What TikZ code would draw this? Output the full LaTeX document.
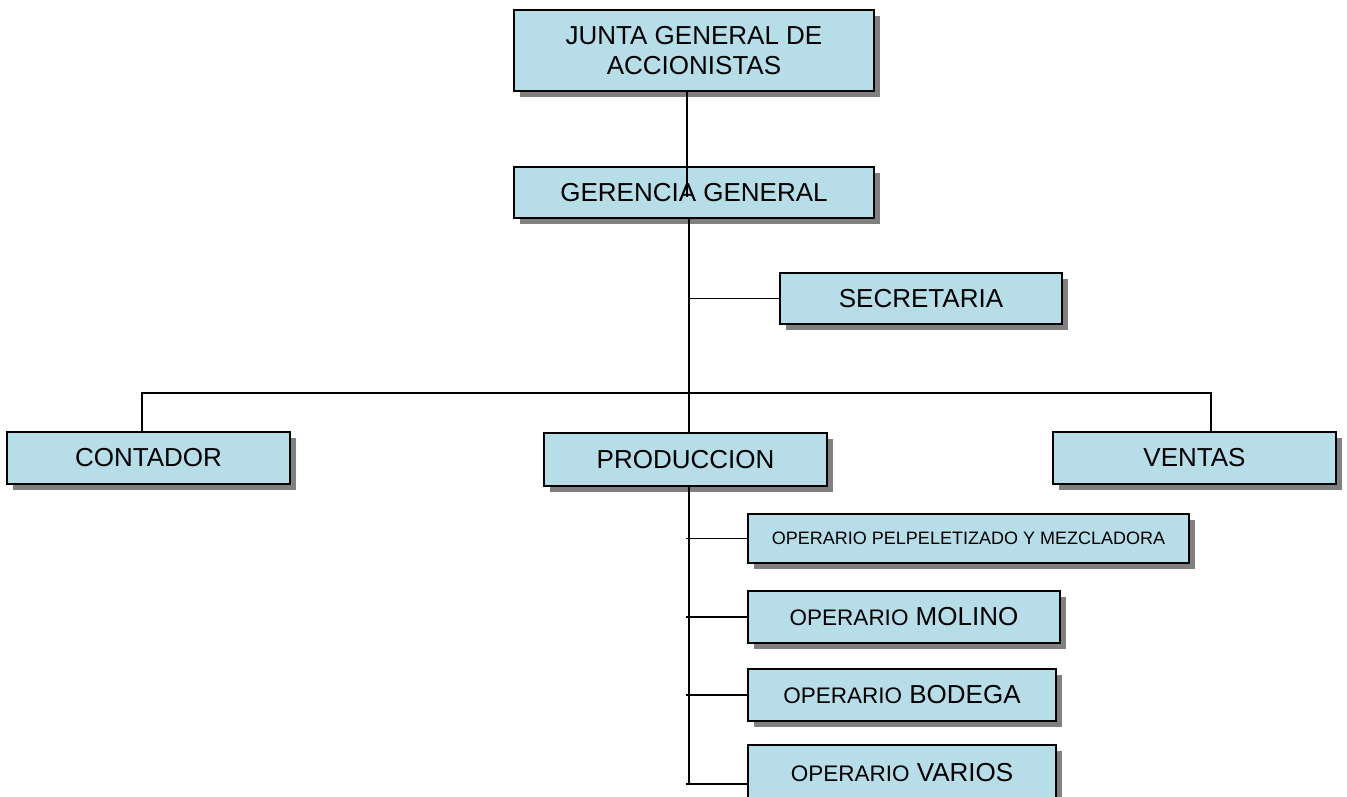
\documentclass[tikz,border=0pt]{standalone}
\usepackage{fontspec}
\setmainfont{Liberation Sans}
\usepackage{xcolor}
\definecolor{mcyan}{HTML}{B7DDE8}
\definecolor{mshadow}{HTML}{808080}
\usepackage{tikz}
\usetikzlibrary{shadows}

\tikzset{
  unit/.style={draw, line width=1.8pt, fill=mcyan, inner sep=0pt, align=center,
    font=\fontsize{26}{30}\selectfont,
    drop shadow={shadow xshift=6pt, shadow yshift=-6pt, fill=mshadow, opacity=1}},
  link/.style={line width=1.8pt}
}
\newcommand{\opsmall}{\fontsize{22.5}{27}\selectfont}

\begin{document}
\begin{tikzpicture}[x=1pt, y=-1pt]
            \useasboundingbox (0,0) rectangle (1347,796);
            \node[unit, minimum width=360pt, minimum height=81pt] (junta) at (694,50.5) {JUNTA GENERAL DE\\ACCIONISTAS};
            \node[unit, minimum width=360pt, minimum height=51pt] (gerencia) at (694,192.5) {GERENCIA GENERAL};
            \node[unit, minimum width=282pt, minimum height=51pt] (secretaria) at (921,298.5) {SECRETARIA};
            \node[unit, minimum width=283pt, minimum height=52pt] (contador) at (148.5,458) {CONTADOR};
            \node[unit, minimum width=283pt, minimum height=53pt] (produccion) at (685.5,459.5) {PRODUCCION};
            \node[unit, minimum width=283pt, minimum height=52pt] (ventas) at (1194.5,458) {VENTAS};
            \node[unit, minimum width=441pt, minimum height=49pt, font=\fontsize{18}{22}\selectfont] (op1) at (968.5,538.5) {OPERARIO PELPELETIZADO Y MEZCLADORA};
            \node[unit, minimum width=312pt, minimum height=52pt] (molino) at (904,617) {{\opsmall OPERARIO} MOLINO};
            \node[unit, minimum width=308pt, minimum height=52pt] (bodega) at (902,695) {{\opsmall OPERARIO} BODEGA};
            \node[unit, minimum width=308pt, minimum height=56pt] (varios) at (902,773) {{\opsmall OPERARIO} VARIOS};

            \coordinate (gend) at (687,197);
            \coordinate (trunk) at (689,0);
            \coordinate (cl) at (142,393);
            \coordinate (vr) at (1211,393);
            \coordinate (sub) at (686,0);
            \coordinate (vend) at (686,784);

            \draw[link] (junta.south -| gend) -- (gend);
            \draw[link] (gerencia.south -| trunk) -- (produccion.north -| trunk);
            \draw[link] (secretaria.west -| trunk) -- (secretaria.west);
            \draw[link] (contador.north -| cl) -- (cl) -- (vr) -- (ventas.north -| vr);
            \draw[link] (produccion.south -| trunk) -- (trunk |- vend);
            \foreach \b in {op1, molino, bodega}
                \draw[link] (\b.west -| sub) -- (\b.west);
            \draw[link] (vend) -- (varios.west |- vend);
        \end{tikzpicture}
\end{document}
